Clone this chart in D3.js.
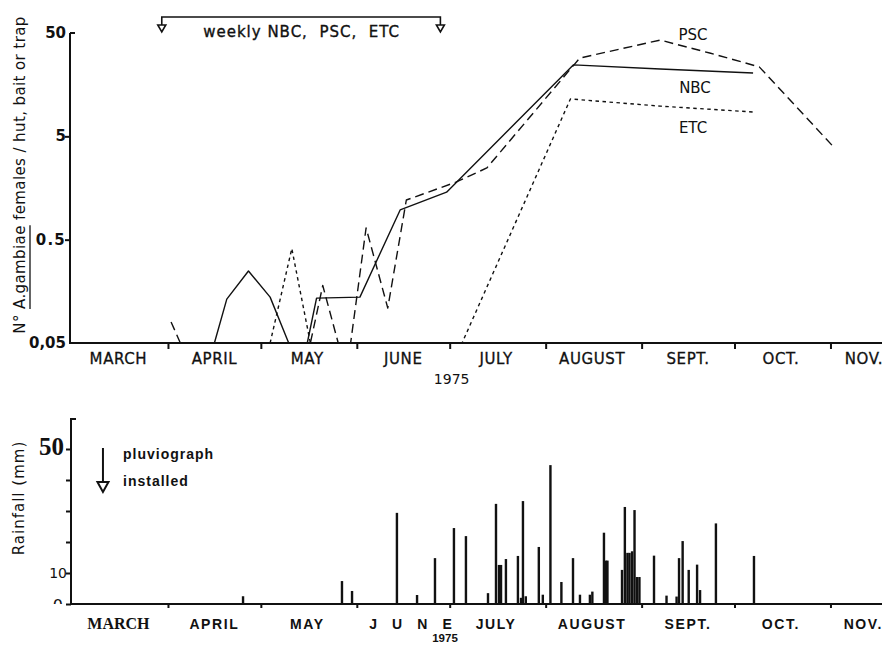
<!DOCTYPE html>
<html>
<head>
<meta charset="utf-8">
<script src="https://cdn.jsdelivr.net/npm/d3@7"></script>
<style>
  body { margin: 0; background: #fff; }
  svg { display: block; }
  .letter { font-family: "DejaVu Sans", sans-serif; fill: #111; }
  .print { font-family: "Liberation Sans", Arial, sans-serif; font-weight: bold; fill: #111; }
</style>
</head>
<body>
<svg id="chart" width="885" height="645"></svg>
<script>
const parseDay = d3.timeParse("%Y-%m-%d");
const parseHour = d3.timeParse("%Y-%m-%d %H");

// Weekly catches of A. gambiae females (0 = none caught, drawn on the 0.05 floor)
const nbcDates  = ["1975-04-16","1975-04-20","1975-04-27","1975-05-04","1975-05-10","1975-05-16","1975-05-19","1975-06-02","1975-06-15","1975-06-30","1975-08-10","1975-09-07","1975-10-07"];
const nbcValues = [0, 0.133, 0.249, 0.139, 0, 0, 0.136, 0.139, 0.97, 1.44, 24.6, 22.4, 20.5];

const pscDates  = ["1975-04-02","1975-04-05","1975-05-17","1975-05-21","1975-05-26","1975-05-30","1975-06-04","1975-06-11","1975-06-17","1975-07-03","1975-07-13","1975-08-12","1975-09-07","1975-09-23","1975-10-09","1975-11-02"];
const pscValues = [0.08, 0, 0, 0.18, 0, 0, 0.65, 0.109, 1.21, 1.8, 2.47, 28.6, 42.7, 32, 23.5, 3.95];

const etcDates  = ["1975-05-04","1975-05-11","1975-05-17","1975-07-05","1975-08-09","1975-09-07","1975-10-07"];
const etcValues = [0, 0.41, 0, 0, 11.5, 9.8, 8.6];

// Rainfall events recorded by the pluviograph (mm)
const rainTimes = ["1975-04-25 06","1975-05-27 05","1975-05-30 11","1975-06-13 23","1975-06-20 11","1975-06-26 06",
  "1975-07-02 09","1975-07-06 06","1975-07-13 09","1975-07-15 23","1975-07-16 22","1975-07-17 14","1975-07-19 04",
  "1975-07-23 01","1975-07-24 01","1975-07-24 16","1975-07-25 14","1975-07-29 19","1975-07-31 02","1975-08-02 13",
  "1975-08-06 02","1975-08-09 20","1975-08-12 02","1975-08-15 07","1975-08-16 02","1975-08-19 20","1975-08-20 12",
  "1975-08-20 23","1975-08-25 16","1975-08-26 14","1975-08-27 10","1975-08-28 02","1975-08-28 22","1975-08-29 17",
  "1975-08-30 12","1975-08-31 07","1975-09-05 00","1975-09-09 01","1975-09-12 07","1975-09-13 02","1975-09-14 06",
  "1975-09-16 05","1975-09-18 22","1975-09-19 21","1975-09-25 00","1975-10-07 07"];
const rainMm = [2.5, 7.4, 4.2, 29.4, 2.9, 14.8, 24.5, 21.9, 3.5, 32.3, 12.6, 12.6, 14.5, 15.5, 2, 33.2, 2.5, 18.4, 3,
  44.8, 7.1, 14.8, 3, 3, 4, 23, 14, 14, 11, 31.3, 16.5, 16.5, 17, 30.3, 8.7, 8.7, 15.6, 2.7, 2.4, 14.8, 20.3, 11,
  12.7, 4.5, 26, 15.5];

// Axis ticks and labels
const monthStarts = ["1975-03-01","1975-04-01","1975-05-01","1975-06-01","1975-07-01","1975-08-01","1975-09-01","1975-10-01","1975-11-01"];
const topMonthLabels  = ["MARCH","APRIL","MAY","JUNE","JULY","AUGUST","SEPT.","OCT.","NOV."];
const rainMonthLabels = ["MARCH","APRIL","MAY","J U N E","JULY","AUGUST","SEPT.","OCT.","NOV."];
const catchTicks  = [0.05, 0.5, 5, 50];
const catchLabels = ["0,05", "0.5", "5", "50"];
const rainTicks = [0, 10, 20, 30, 40, 50];
const rainLabels = {0: "0", 10: "10", 50: "50"};
const surveySpan = ["1975-03-30", "1975-06-28"];
const pluviographDate = "1975-03-11";

const W = 885, H = 645, ink = "#111";
const svg = d3.select("#chart");

const x = d3.scaleTime()
  .domain([parseDay("1975-03-01"), parseDay("1975-11-17")])
  .range([72, 880]);

// ---------- upper panel: catches on a log scale ----------
const yTop = d3.scaleLog().domain([0.05, 50]).range([343, 33]);
const floorVal = 0.05;
const upper = svg.append("g");

const series = [
  {name: "NBC", dates: nbcDates, values: nbcValues, dash: null},
  {name: "PSC", dates: pscDates, values: pscValues, dash: "9,5"},
  {name: "ETC", dates: etcDates, values: etcValues, dash: "3.5,3.5"}
];
const line = d3.line()
  .x(d => x(d.date))
  .y(d => yTop(Math.max(d.value, floorVal)));

series.forEach(s => {
  const pts = s.dates.map((d, i) => ({date: parseDay(d), value: s.values[i]}));
  upper.append("path")
    .datum(pts)
    .attr("d", line)
    .attr("fill", "none")
    .attr("stroke", ink)
    .attr("stroke-width", 1.4)
    .attr("stroke-linejoin", "round")
    .attr("stroke-dasharray", s.dash);
});

// series labels
[["PSC", 693, 40], ["NBC", 695, 93], ["ETC", 693, 133]].forEach(([t, lx, ly]) => {
  upper.append("text").attr("class", "letter")
    .attr("x", lx).attr("y", ly)
    .attr("text-anchor", "middle")
    .attr("font-size", 15)
    .text(t);
});

// x axis
const xAxisTop = upper.append("g")
  .attr("transform", "translate(0,343)")
  .call(d3.axisBottom(x).tickValues(monthStarts.slice(1).map(parseDay)).tickSize(6).tickSizeOuter(0).tickFormat(""));
xAxisTop.select(".domain").attr("d", "M70,0H882");
xAxisTop.selectAll("path, line").attr("stroke", ink).attr("stroke-width", 2);

function monthLabel(g, labels, yBase, styleFn) {
  labels.forEach((lab, i) => {
    const mid = d3.timeDay.offset(parseDay(monthStarts[i]), 15);
    const t = g.append("text").attr("y", yBase).attr("text-anchor", "middle").text(lab);
    styleFn(t, i);
    const w = t.node().getComputedTextLength();
    const cx = Math.min(x(mid), W - 2 - w / 2);
    t.attr("x", cx);
  });
}
monthLabel(upper, topMonthLabels, 364, (t) => {
  t.attr("class", "letter").attr("font-size", 15).attr("letter-spacing", 0.6)
    .attr("stroke", ink).attr("stroke-width", 0.3);
});
upper.append("text").attr("class", "letter")
  .attr("x", x(parseDay("1975-07-01")) + 2).attr("y", 384)
  .attr("text-anchor", "middle").attr("font-size", 14).text("1975");

// y axis
const yAxisTop = upper.append("g")
  .attr("transform", "translate(70,0)")
  .call(d3.axisLeft(yTop).tickValues(catchTicks.slice(1, 3)).tickSize(5).tickSizeOuter(0).tickFormat(""));
yAxisTop.select(".domain").attr("d", "M0,33V344M0,33H5");
yAxisTop.selectAll("path, line").attr("stroke", ink).attr("stroke-width", 2).attr("fill", "none");

catchTicks.forEach((v, i) => {
  upper.append("text").attr("class", "letter")
    .attr("x", 66).attr("y", yTop(v) + 5)
    .attr("text-anchor", "end")
    .attr("font-size", 15).attr("font-weight", "bold")
    .attr("letter-spacing", i === 1 ? 1.2 : 0)
    .text(catchLabels[i]);
});

// rotated axis title with the species name underlined
const titleG = upper.append("g").attr("transform", "translate(25,175) rotate(-90)");
const title = titleG.append("text").attr("class", "letter")
  .attr("text-anchor", "middle").attr("font-size", 15).attr("letter-spacing", 0.4);
title.append("tspan").text("N° ");
title.append("tspan").text("A.gambiae");
title.append("tspan").text(" females / hut, bait or trap");
{
  const node = title.node();
  const s = node.getStartPositionOfChar(3);
  const len = node.getSubStringLength(3, 9);
  titleG.append("line")
    .attr("x1", s.x).attr("x2", s.x + len)
    .attr("y1", 5).attr("y2", 5)
    .attr("stroke", ink).attr("stroke-width", 1.3);
}

// survey bracket
{
  const x0 = x(parseDay(surveySpan[0])), x1 = x(parseDay(surveySpan[1]));
  const br = upper.append("g").attr("stroke", ink).attr("stroke-width", 1.6).attr("fill", "#fff");
  br.append("path").attr("fill", "none").attr("d", `M${x0},25V17H${x1}V25`);
  [x0, x1].forEach(cx => {
    br.append("path").attr("d", `M${cx - 4},25H${cx + 4}L${cx},32Z`);
  });
  upper.append("text").attr("class", "letter")
    .attr("x", (x0 + x1) / 2 + 0.5).attr("y", 37)
    .attr("text-anchor", "middle").attr("font-size", 15)
    .attr("letter-spacing", 1).style("white-space", "pre")
    .attr("stroke", ink).attr("stroke-width", 0.35)
    .text("weekly NBC,  PSC,  ETC");
}

// ---------- lower panel: rainfall ----------
const yRain = d3.scaleLinear().domain([0, 60]).range([604, 418]);
const lower = svg.append("g");

const rain = rainTimes.map((t, i) => ({time: parseHour(t), mm: rainMm[i]}));
lower.selectAll("rect.rain")
  .data(rain)
  .join("rect")
  .attr("class", "rain")
  .attr("x", d => x(d.time) - 1.2)
  .attr("width", 2.4)
  .attr("y", d => yRain(d.mm))
  .attr("height", d => yRain(0) - yRain(d.mm))
  .attr("fill", ink);

const xAxisRain = lower.append("g")
  .attr("transform", `translate(0,${yRain(0)})`)
  .call(d3.axisBottom(x).tickValues(monthStarts.slice(1).map(parseDay)).tickSize(4).tickSizeOuter(0).tickFormat(""));
xAxisRain.select(".domain").attr("d", "M71,0H882");
xAxisRain.selectAll("path, line").attr("stroke", ink).attr("stroke-width", 2);

const yAxisRain = lower.append("g")
  .attr("transform", "translate(71,0)")
  .call(d3.axisLeft(yRain).tickValues(rainTicks).tickSize(5).tickSizeOuter(0).tickFormat(""));
yAxisRain.select(".domain").attr("d", `M0,${yRain(0)}V419H5`);
yAxisRain.selectAll("path, line").attr("stroke", ink).attr("stroke-width", 2).attr("fill", "none");

// rainfall tick labels
lower.append("text")
  .attr("x", 64).attr("y", yRain(50) + 6)
  .attr("text-anchor", "end")
  .attr("font-family", "Liberation Serif, Times New Roman, serif")
  .attr("font-weight", "bold").attr("font-size", 25).attr("fill", ink)
  .text(rainLabels[50]);
lower.append("text").attr("class", "letter")
  .attr("x", 67).attr("y", yRain(10) + 5)
  .attr("text-anchor", "end").attr("font-size", 14)
  .text(rainLabels[10]);
lower.append("clipPath").attr("id", "zeroClip")
  .append("rect").attr("x", 30).attr("y", 580).attr("width", 40).attr("height", yRain(0) - 580);
lower.append("text").attr("class", "letter")
  .attr("clip-path", "url(#zeroClip)")
  .attr("x", 63).attr("y", yRain(0) + 7)
  .attr("text-anchor", "end").attr("font-size", 16)
  .text(rainLabels[0]);

lower.append("text").attr("class", "letter")
  .attr("transform", "translate(24,498) rotate(-90)")
  .attr("text-anchor", "middle").attr("font-size", 15).attr("letter-spacing", 1)
  .text("Rainfall (mm)");

monthLabel(lower, rainMonthLabels, 629, (t, i) => {
  if (i === 0) {
    t.attr("font-family", "Liberation Serif, Times New Roman, serif")
      .attr("font-weight", "bold").attr("font-size", 16).attr("fill", ink);
  } else {
    t.attr("class", "print").attr("font-size", 14).attr("letter-spacing", 1.6);
  }
  if (rainMonthLabels[i].includes(" ")) t.attr("word-spacing", 8).attr("dx", 8);
});
lower.append("text").attr("class", "print")
  .attr("x", 445).attr("y", 642)
  .attr("text-anchor", "middle").attr("font-size", 11.5)
  .text("1975");

// pluviograph installation marker
{
  const px = x(parseDay(pluviographDate));
  const mk = lower.append("g").attr("stroke", ink).attr("stroke-width", 2);
  mk.append("line").attr("x1", px).attr("x2", px).attr("y1", 448).attr("y2", 482);
  mk.append("path").attr("fill", "#fff").attr("d", `M${px - 5.5},482H${px + 5.5}L${px},492Z`);
  lower.append("text").attr("class", "print")
    .attr("x", 123).attr("y", 459).attr("font-size", 14).attr("letter-spacing", 1)
    .text("pluviograph");
  lower.append("text").attr("class", "print")
    .attr("x", 123).attr("y", 486).attr("font-size", 14).attr("letter-spacing", 1)
    .text("installed");
}
</script>
</body>
</html>
